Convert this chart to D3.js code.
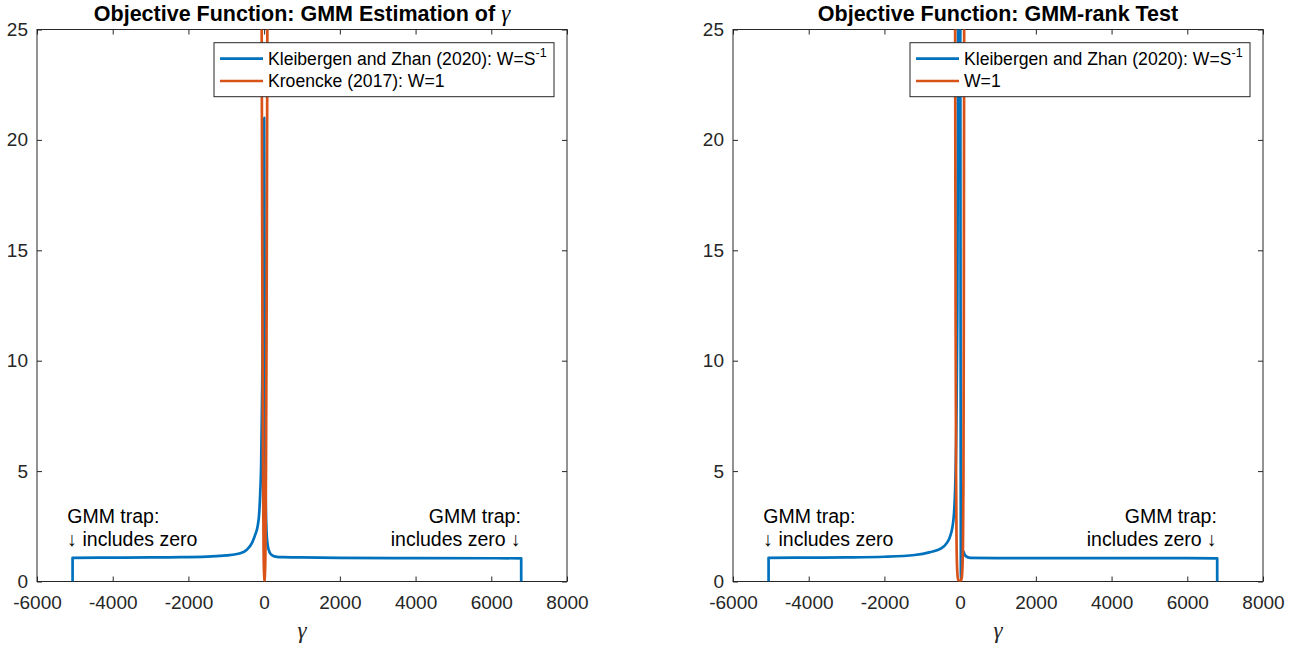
<!DOCTYPE html>
<html>
<head>
<meta charset="utf-8">
<title>Objective Function</title>
<script src="https://cdn.jsdelivr.net/npm/d3@7"></script>
<style>
  body { margin: 0; background: #fff; }
  svg { display: block; font-family: "Liberation Sans", Arial, sans-serif; }
</style>
</head>
<body>
<script>
// tick values
const xTicks = [-6000, -4000, -2000, 0, 2000, 4000, 6000, 8000];
const yTicks = [0, 5, 10, 15, 20, 25];

// left panel, [gamma, objective]
const kzEst = [[-5060, 0], [-5060, 1.07], [-4000, 1.08], [-3000, 1.09], [-2200, 1.1], [-1500, 1.13],
  [-1000, 1.18], [-630, 1.28], [-450, 1.45], [-320, 1.75], [-240, 2.1], [-172, 2.5], [-130, 3.1],
  [-100, 4.15], [-80, 5.2], [-66, 6.9], [-50, 9], [-35, 12], [-20, 16], [-8, 19.5], [0, 21],
  [20, 9], [40, 4], [60, 2.4], [92, 1.66], [150, 1.3], [200, 1.2], [296, 1.13], [500, 1.1],
  [956, 1.09], [2000, 1.07], [4000, 1.06], [6790, 1.05], [6790, 0]];
const kroencke = [[-130, 60], [-65, 25], [-45, 12], [-30, 5.5], [-15, 1.5], [0, 0.3], [10, 0],
  [20, 0.3], [35, 1.5], [50, 5.5], [65, 12], [85, 25], [150, 60]];

// right panel
const kzRank = [[-5060, 0], [-5060, 1.07], [-4000, 1.08], [-3000, 1.09], [-2000, 1.12], [-1200, 1.2],
  [-794, 1.33], [-500, 1.5], [-350, 1.75], [-265, 2.04], [-177, 2.8], [-132, 4.2], [-100, 7],
  [-75, 12], [-60, 20], [-50, 30], [0, 30], [10, 15], [15, 5], [18, 1], [22, 0.1], [50, 0.8],
  [87, 1.36], [110, 1.25], [150, 1.15], [265, 1.07], [1000, 1.06], [4000, 1.06], [6790, 1.05], [6790, 0]];
const rankW1 = [[-160, 60], [-132, 25], [-120, 12], [-106, 4.6], [-95, 1.8], [-80, 0.6], [-55, 0.1],
  [-10, 0], [35, 0.1], [60, 0.6], [75, 1.8], [87, 4.6], [97, 12], [106, 25], [125, 60]];

const seriesColors = ["#0072BD", "#D95319"];

const panels = [
  { left: 37, title: "Objective Function: GMM Estimation of ", gamma: true,
    series: [kzEst, kroencke], names: ["Kleibergen and Zhan (2020): W=S", "Kroencke (2017): W=1"] },
  { left: 733, title: "Objective Function: GMM-rank Test", gamma: false,
    series: [kzRank, rankW1], names: ["Kleibergen and Zhan (2020): W=S", "W=1"] }
];

const W = 1296, H = 646;
const pw = 530, plotTop = 29.5, plotBottom = 581.5;
const axisColor = "#262626";

const svg = d3.select("body").append("svg")
  .attr("width", W)
  .attr("height", H);

panels.forEach(function (p, i) {
  const x = d3.scaleLinear().domain([-6000, 8000]).range([p.left, p.left + pw]);
  const y = d3.scaleLinear().domain([0, 25]).range([plotBottom, plotTop]);

  const g = svg.append("g");

  // clip area
  svg.append("clipPath").attr("id", "clip" + i)
    .append("rect")
    .attr("x", p.left).attr("y", plotTop)
    .attr("width", pw).attr("height", plotBottom - plotTop);

  // ticks inward on all sides
  g.append("g")
    .attr("transform", "translate(0," + plotBottom + ")")
    .call(d3.axisBottom(x).tickValues(xTicks).tickSize(-5).tickPadding(14)
      .tickFormat(function (d) { return String(d); }))
    .call(function (a) { a.select(".domain").remove(); });
  g.append("g")
    .attr("transform", "translate(0," + plotTop + ")")
    .call(d3.axisTop(x).tickValues(xTicks).tickSize(-5).tickFormat(""))
    .call(function (a) { a.select(".domain").remove(); });
  g.append("g")
    .attr("transform", "translate(" + p.left + ",0)")
    .call(d3.axisLeft(y).tickValues(yTicks).tickSize(-5).tickPadding(9))
    .call(function (a) { a.select(".domain").remove(); });
  g.append("g")
    .attr("transform", "translate(" + (p.left + pw) + ",0)")
    .call(d3.axisRight(y).tickValues(yTicks).tickSize(-5).tickFormat(""))
    .call(function (a) { a.select(".domain").remove(); });

  g.selectAll(".tick line").attr("stroke", axisColor);
  g.selectAll(".tick text")
    .attr("fill", axisColor)
    .style("font-size", "19px")
    .style("font-family", "'Liberation Sans', Arial, sans-serif");

  // the box
  g.append("rect")
    .attr("x", p.left).attr("y", plotTop)
    .attr("width", pw).attr("height", plotBottom - plotTop)
    .attr("fill", "none")
    .attr("stroke", axisColor)
    .attr("stroke-width", 1);

  // lines
  const line = d3.line()
    .x(function (d) { return x(d[0]); })
    .y(function (d) { return y(d[1]); })
    .curve(d3.curveMonotoneX);

  g.append("g").attr("clip-path", "url(#clip" + i + ")")
    .selectAll("path")
    .data(p.series)
    .enter()
    .append("path")
    .attr("d", line)
    .attr("fill", "none")
    .attr("stroke", function (d, k) { return seriesColors[k]; })
    .attr("stroke-width", 2.7)
    .attr("stroke-linejoin", "round");

  // title
  const t = g.append("text")
    .attr("x", p.left + pw / 2)
    .attr("y", 20.5)
    .attr("text-anchor", "middle")
    .style("font-size", "21.5px")
    .style("font-weight", "bold")
    .attr("fill", "#000")
    .text(p.title);
  if (p.gamma) {
    t.append("tspan")
      .style("font-family", "'Liberation Serif', 'DejaVu Serif', serif")
      .style("font-style", "italic")
      .style("font-weight", "normal")
      .style("font-size", "23px")
      .text("γ");
  }

  // x label
  g.append("text")
    .attr("x", p.left + pw / 2)
    .attr("y", 638)
    .attr("text-anchor", "middle")
    .style("font-family", "'Liberation Serif', 'DejaVu Serif', serif")
    .style("font-style", "italic")
    .style("font-size", "23px")
    .attr("fill", axisColor)
    .text("γ");

  // annotations
  const leftA = g.append("text")
    .style("font-size", "19.5px")
    .attr("fill", "#000");
  leftA.append("tspan").attr("x", x(-5200)).attr("y", 523).text("GMM trap:");
  leftA.append("tspan").attr("x", x(-5200)).attr("y", 546).text("↓ includes zero");

  const rightA = g.append("text")
    .attr("text-anchor", "end")
    .style("font-size", "19.5px")
    .attr("fill", "#000");
  rightA.append("tspan").attr("x", x(6780)).attr("y", 523).text("GMM trap:");
  rightA.append("tspan").attr("x", x(6780)).attr("y", 546).text("includes zero ↓");

  // legend
  const lx = p.left + pw - 353, ly = 42.7, lw = 340, lh = 54;
  const leg = g.append("g");
  leg.append("rect")
    .attr("x", lx).attr("y", ly)
    .attr("width", lw).attr("height", lh)
    .attr("fill", "#fff")
    .attr("stroke", axisColor)
    .attr("stroke-width", 1);
  p.names.forEach(function (name, k) {
    const ry = ly + 16 + k * 22.3;
    leg.append("line")
      .attr("x1", lx + 6).attr("x2", lx + 49)
      .attr("y1", ry).attr("y2", ry)
      .attr("stroke", seriesColors[k])
      .attr("stroke-width", 2.7);
    const lt = leg.append("text")
      .attr("x", lx + 54)
      .attr("y", ry + 6.3)
      .style("font-size", "17.6px")
      .attr("fill", "#000")
      .text(name);
    if (k === 0) {
      lt.append("tspan")
        .attr("dy", -8)
        .style("font-size", "12.5px")
        .text("-1");
    }
  });
});
</script>
</body>
</html>
